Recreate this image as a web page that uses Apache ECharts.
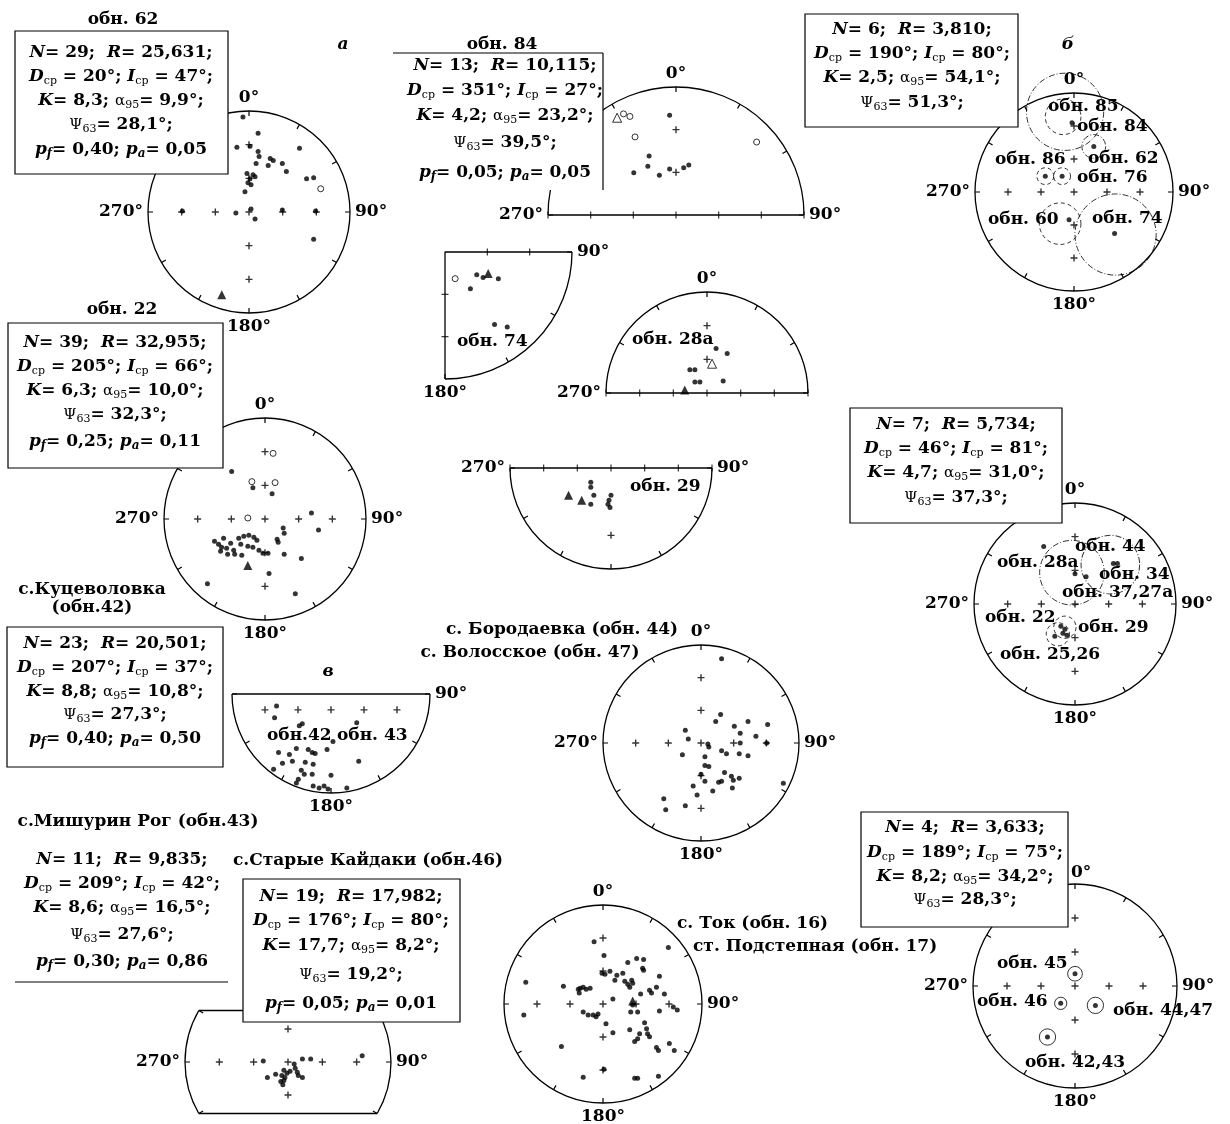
<!DOCTYPE html>
<html lang="ru">
<head>
<meta charset="UTF-8">
<title>Стереограммы</title>
<script src="https://cdn.jsdelivr.net/npm/echarts@6/dist/echarts.min.js"></script>
<style>html,body{margin:0;background:#fff}#main{width:1230px;height:1124px}</style>
</head>
<body>
<div id="main"></div>
<script>
// координаты точек: x, y в долях радиуса круга (восток +x, север +y)
var obn62Dots = [[-0.06,0.94],[0.09,0.78],[-0.12,0.64],[0.01,0.65],[0.09,0.60],[0.10,0.55],[0.07,0.48],[0.21,0.53],[0.24,0.51],[0.19,0.46],[0.33,0.48],[0.37,0.40],[0.50,0.63],[0.57,0.33],[0.64,0.34],[-0.02,0.38],[0.04,0.37],[0.01,0.33],[-0.01,0.29],[0.06,0.35],[0.02,0.27],[-0.04,0.20],[-0.66,0.01],[-0.13,-0.01],[0.02,0.03],[0.06,-0.07],[0.33,0.02],[0.66,0.01],[0.64,-0.27]];
var obn62Open = [[0.71,0.23]];
var obn62Mean = [[-0.27,-0.82]];

var obn22Dots = [[-0.33,0.47],[-0.12,0.31],[0.07,0.25],[0.46,0.06],[0.53,-0.11],[0.18,-0.09],[0.19,-0.14],[0.12,-0.20],[0.13,-0.23],
  [-0.50,-0.22],[-0.46,-0.25],[-0.43,-0.28],[-0.44,-0.32],[-0.38,-0.29],[-0.31,-0.31],[-0.34,-0.24],[-0.26,-0.19],[-0.21,-0.17],[-0.16,-0.16],[-0.11,-0.18],[-0.08,-0.21],[-0.24,-0.25],[-0.17,-0.27],[-0.12,-0.28],[-0.06,-0.31],[-0.02,-0.34],[0.03,-0.34],[-0.30,-0.35],[-0.23,-0.36],[-0.37,-0.35],[-0.41,-0.19],
  [0.19,-0.35],[0.36,-0.39],[0.04,-0.54],[-0.57,-0.64],[0.30,-0.74]];
var obn22Open = [[0.08,0.65],[-0.13,0.37],[0.10,0.36],[-0.17,0.01]];
var obn22Mean = [[-0.17,-0.46]];

var obn84Dots = [[-0.05,0.78],[-0.21,0.46],[-0.22,0.38],[-0.33,0.33],[-0.13,0.31],[-0.05,0.36],[0.06,0.37],[0.10,0.39]];
var obn84Open = [[-0.41,0.79],[-0.36,0.77],[-0.32,0.61],[0.63,0.57]];
var obn84OpenMean = [[-0.46,0.76]];

var obn74Dots = [[0.25,-0.18],[0.30,-0.20],[0.42,-0.21],[0.20,-0.29],[0.39,-0.57],[0.49,-0.59]];
var obn74Open = [[0.08,-0.21]];
var obn74Mean = [[0.34,-0.17]];

var obn28Dots = [[0.09,0.44],[0.20,0.39],[-0.17,0.23],[-0.12,0.23],[-0.12,0.11],[-0.07,0.11],[0.16,0.12]];
var obn28OpenMean = [[0.05,0.29]];
var obn28Mean = [[-0.22,0.03]];

var obn29Dots = [[-0.20,-0.14],[-0.20,-0.19],[-0.17,-0.27],[-0.20,-0.36],[0.00,-0.27],[-0.02,-0.32],[-0.03,-0.36],[-0.01,-0.39]];
var obn29Mean = [[-0.42,-0.27],[-0.29,-0.32]];

// сводные: x, y, радиус круга доверия
var sumBDashed = [[-0.11,0.76,0.18],[-0.29,0.16,0.085],[-0.12,0.16,0.085],[-0.14,-0.32,0.21]];
var sumBDotDash = [[-0.09,0.81,0.39],[0.20,0.46,0.12],[0.42,-0.43,0.41]];
var sumBMeans = [[-0.02,0.70],[0.20,0.46],[-0.29,0.16],[-0.12,0.16],[-0.05,-0.28],[0.41,-0.42]];

var sum2DotDash = [[-0.03,0.31,0.32],[0.35,0.39,0.29]];
var sum2Dashed = [[-0.10,-0.23,0.11],[-0.17,-0.30,0.115]];
var sum2Means = [[-0.31,0.57],[0.00,0.30],[0.11,0.27],[0.38,0.40],[0.42,0.40],[-0.14,-0.22],[-0.10,-0.25],[-0.12,-0.29],[-0.20,-0.32],[-0.08,-0.31]];

var sum3Rings = [[0.00,0.12,0.072],[-0.14,-0.17,0.06],[0.20,-0.19,0.08],[-0.27,-0.50,0.08]];

var obn42Dots = [[-0.55,-0.12],[-0.57,-0.24],[-0.32,-0.32],[-0.29,-0.30],[0.26,-0.29],[0.02,-0.48],[-0.53,-0.59],[-0.42,-0.61],[-0.35,-0.55],[-0.23,-0.56],[-0.19,-0.59],[-0.16,-0.60],[-0.04,-0.56],[-0.49,-0.70],[-0.39,-0.68],[-0.26,-0.69],[-0.18,-0.71],[0.28,-0.68],[-0.30,-0.77],[-0.27,-0.81],[-0.19,-0.81],[0.00,-0.82],[-0.58,-0.76],[-0.33,-0.86],[-0.35,-0.90],[-0.18,-0.93],[-0.12,-0.95],[-0.07,-0.93],[-0.03,-0.96],[0.16,-0.95]];

var obn44Dots = [[0.21,0.86],[0.20,0.29],[0.15,0.22],[0.34,0.17],[0.48,0.22],[0.68,0.19],[0.40,0.10],[0.56,0.07],[0.67,0.00],[-0.16,0.13],[-0.13,0.04],[0.07,-0.01],[0.08,-0.04],[0.40,0.00],[0.21,-0.08],[0.26,-0.11],[0.39,-0.11],[0.48,-0.13],[-0.19,-0.12],[0.04,-0.14],[0.04,-0.23],[0.08,-0.24],[0.00,-0.32],[0.24,-0.30],[0.31,-0.34],[0.33,-0.38],[0.39,-0.36],[0.04,-0.39],[0.18,-0.40],[0.21,-0.39],[-0.08,-0.44],[0.12,-0.49],[0.32,-0.46],[-0.04,-0.53],[-0.38,-0.57],[-0.36,-0.68],[-0.16,-0.64],[0.84,-0.41]];

var obn46Dots = [[-0.24,0.01],[0.14,0.03],[0.22,0.03],[0.72,0.06],[-0.20,-0.15],[-0.12,-0.12],[-0.04,-0.08],[-0.06,-0.13],[-0.04,-0.18],[-0.07,-0.19],[-0.03,-0.15],[-0.01,-0.11],[0.07,-0.06],[0.10,-0.13],[0.14,-0.15],[0.09,-0.10],[0.06,-0.02],[0.02,-0.09],[-0.05,-0.22]];

var obn16Dots = [[-0.09,0.63],[0.66,0.57],[0.01,0.49],[0.25,0.42],[0.34,0.46],[0.41,0.45],[0.40,0.36],[0.41,0.34],[-0.01,0.31],[0.02,0.30],[0.07,0.33],[0.14,0.29],[0.12,0.24],[0.20,0.31],[0.22,0.23],[0.25,0.20],[0.29,0.24],[0.27,0.17],[0.30,0.21],[0.57,0.28],[-0.78,0.22],[-0.40,0.18],[-0.25,0.15],[-0.23,0.16],[-0.20,0.17],[-0.17,0.15],[-0.13,0.16],[-0.24,0.11],[0.47,0.14],[0.49,0.11],[0.54,0.17],[0.38,0.10],[0.62,0.10],[0.10,0.05],[0.30,-0.01],[0.71,-0.03],[0.75,-0.06],[0.57,-0.07],[0.28,-0.08],[0.35,-0.08],[-0.20,-0.08],[-0.15,-0.11],[-0.10,-0.11],[-0.05,-0.10],[-0.07,-0.13],[-0.80,-0.11],[0.03,-0.20],[0.10,-0.29],[0.27,-0.26],[0.37,-0.30],[0.35,-0.35],[0.32,-0.38],[0.42,-0.19],[0.44,-0.25],[0.45,-0.30],[0.47,-0.33],[-0.42,-0.43],[0.54,-0.44],[0.56,-0.47],[0.67,-0.40],[0.72,-0.47],[0.01,-0.66],[-0.20,-0.74],[0.32,-0.75],[0.35,-0.75],[0.56,-0.73]];
var obn16Mean = [[0.30,0.03]];

// статистика
var stat62 = ['29','25,631','20','47','8,3','9,9','28,1','0,40','0,05'];
var stat84 = ['13','10,115','351','27','4,2','23,2','39,5','0,05','0,05'];
var stat22 = ['39','32,955','205','66','6,3','10,0','32,3','0,25','0,11'];
var stat42 = ['23','20,501','207','37','8,8','10,8','27,3','0,40','0,50'];
var stat43 = ['11','9,835','209','42','8,6','16,5','27,6','0,30','0,86'];
var stat46 = ['19','17,982','176','80','17,7','8,2','19,2','0,05','0,01'];
var statB = ['6','3,810','190','80','2,5','54,1','51,3'];
var stat2 = ['7','5,734','46','81','4,7','31,0','37,3'];
var stat3 = ['4','3,633','189','75','8,2','34,2','28,3'];

var FONT = '"DejaVu Serif", "Liberation Serif", serif';
var PLUS = 'path://M2,0H3V2H5V3H3V5H2V3H0V2H2Z';

var nets = [
  {cx:249, cy:212, r:101, shape:'full', labels:[0,90,180,270]},   // 0 обн. 62
  {cx:265, cy:519, r:101, shape:'full', labels:[0,90,180,270]},   // 1 обн. 22
  {cx:676, cy:215, r:128, shape:'upper', labels:[0,90,270]},      // 2 обн. 84
  {cx:445, cy:252, r:127, shape:'quarter', labels:[90,180]},      // 3 обн. 74
  {cx:707, cy:393, r:101, shape:'upper', labels:[0,270]},         // 4 обн. 28а
  {cx:611, cy:468, r:101, shape:'lower', labels:[90,270]},        // 5 обн. 29
  {cx:1074, cy:192, r:99, shape:'full', labels:[0,90,180,270]},   // 6 б
  {cx:1075, cy:604, r:101, shape:'full', labels:[0,90,180,270]},  // 7
  {cx:1075, cy:986, r:102, shape:'full', labels:[90,180,270]},    // 8 (0° подписан отдельно)
  {cx:331, cy:694, r:99, shape:'lower', labels:[90,180]},         // 9 в
  {cx:701, cy:743, r:98, shape:'full', labels:[0,90,180,270]},    // 10 Бородаевка
  {cx:288, cy:1062, r:103, shape:'barrel', labels:[90,270], yl:0.55}, // 11 Старые Кайдаки
  {cx:603, cy:1004, r:99, shape:'full', labels:[0,90,180]}        // 12 Ток
];

var crossFull = [[0,0],[-1/3,0],[-2/3,0],[1/3,0],[2/3,0],[0,1/3],[0,2/3],[0,-1/3],[0,-2/3]];
var baseTicks = [[-1,0],[-2/3,0],[-1/3,0],[0,0],[1/3,0],[2/3,0],[1,0]];

var polar = [], angleAxis = [], radiusAxis = [], grid = [], xAxis = [], yAxis = [], series = [];

function addPolar(n, min, max, sa, ea) {
  var i = polar.length;
  polar.push({center: [n.cx, n.cy], radius: n.r});
  var ax = {
    polarIndex: i, type: 'value', min: min, max: max, interval: 30,
    startAngle: sa, clockwise: true,
    axisLine: {lineStyle: {color: '#000', width: 1.3}},
    axisTick: {inside: true, length: 5, lineStyle: {color: '#000', width: 1.2}},
    axisLabel: {
      color: '#000', fontFamily: FONT, fontWeight: 'bold', fontSize: 17, margin: 5,
      formatter: function (v) {
        if (n.shape === 'full' && v >= 360) return '';
        var d = v % 360;
        return n.labels.indexOf(d) >= 0 ? d + '°' : '';
      }
    },
    splitLine: {show: false}, splitArea: {show: false}
  };
  if (ea !== undefined) ax.endAngle = ea;
  angleAxis.push(ax);
  radiusAxis.push({polarIndex: i, type: 'value', min: 0, max: 1, show: false});
}

nets.forEach(function (n, k) {
  if (n.shape === 'full') addPolar(n, 0, 360, 90);
  else if (n.shape === 'upper') addPolar(n, 270, 450, 180, 0);
  else if (n.shape === 'lower') addPolar(n, 90, 270, 0, -180);
  else if (n.shape === 'quarter') addPolar(n, 90, 180, 0, -90);
  else if (n.shape === 'barrel') { addPolar(n, 60, 120, 30, -30); addPolar(n, 240, 300, -150, -210); }
  var yl = n.yl || 1;
  grid.push({left: n.cx - n.r, top: n.cy - n.r * yl, width: 2 * n.r, height: 2 * n.r * yl});
  xAxis.push({gridIndex: k, type: 'value', min: -1, max: 1, show: false});
  yAxis.push({gridIndex: k, type: 'value', min: -yl, max: yl, show: false});
});

var kinds = {
  dot: {symbol: 'circle', symbolSize: 5, itemStyle: {color: '#000'}},
  open: {symbol: 'circle', symbolSize: 6, itemStyle: {color: '#fff', borderColor: '#000', borderWidth: 1}},
  tri: {symbol: 'triangle', symbolSize: 9, itemStyle: {color: '#000'}},
  otri: {symbol: 'triangle', symbolSize: 9, itemStyle: {color: '#fff', borderColor: '#000', borderWidth: 1}},
  cross: {symbol: PLUS, symbolSize: 7, itemStyle: {color: '#000'}},
  vtick: {symbol: 'rect', symbolSize: [1.2, 7], itemStyle: {color: '#000'}},
  htick: {symbol: 'rect', symbolSize: [7, 1.2], itemStyle: {color: '#000'}}
};

function pts(k, data, kind) {
  var s = {type: 'scatter', xAxisIndex: k, yAxisIndex: k, data: data, silent: true, animation: false, clip: false, z: kind === 'open' || kind === 'otri' ? 4 : 3};
  var st = kinds[kind];
  s.symbol = st.symbol; s.symbolSize = st.symbolSize; s.itemStyle = st.itemStyle;
  series.push(s);
}
function rings(k, data, dash) {
  var R = nets[k].r;
  series.push({
    type: 'scatter', xAxisIndex: k, yAxisIndex: k, data: data, silent: true, animation: false, clip: false,
    symbol: 'circle', symbolSize: function (v) { return v[2] * 2 * R; },
    itemStyle: {color: 'rgba(0,0,0,0)', borderColor: '#000', borderWidth: 1, borderType: dash}, z: 2
  });
}
function frame(k, data) {
  series.push({type: 'line', xAxisIndex: k, yAxisIndex: k, data: data, symbol: 'none', silent: true, animation: false,
    lineStyle: {color: '#000', width: 1.3}, z: 2});
}

var DASH = [4, 3], DOTDASH = [6, 2, 1, 2];

// обн. 62
pts(0, crossFull, 'cross'); pts(0, obn62Dots, 'dot'); pts(0, obn62Open, 'open'); pts(0, obn62Mean, 'tri');
// обн. 22
pts(1, crossFull, 'cross'); pts(1, obn22Dots, 'dot'); pts(1, obn22Open, 'open'); pts(1, obn22Mean, 'tri');
// обн. 84
frame(2, [[-1,0],[1,0]]); pts(2, baseTicks, 'vtick'); pts(2, [[0,1/3],[0,2/3]], 'cross');
pts(2, obn84Dots, 'dot'); pts(2, obn84Open, 'open'); pts(2, obn84OpenMean, 'otri');
// обн. 74
frame(3, [[1,0],[0,0],[0,-1]]); pts(3, [[1/3,0],[2/3,0]], 'vtick'); pts(3, [[0,-1/3],[0,-2/3]], 'htick');
pts(3, obn74Dots, 'dot'); pts(3, obn74Open, 'open'); pts(3, obn74Mean, 'tri');
// обн. 28а
frame(4, [[-1,0],[1,0]]); pts(4, baseTicks, 'vtick'); pts(4, [[0,1/3],[0,2/3]], 'cross');
pts(4, obn28Dots, 'dot'); pts(4, obn28OpenMean, 'otri'); pts(4, obn28Mean, 'tri');
// обн. 29
frame(5, [[-1,0],[1,0]]); pts(5, baseTicks, 'vtick'); pts(5, [[0,-2/3]], 'cross');
pts(5, obn29Dots, 'dot'); pts(5, obn29Mean, 'tri');
// б
pts(6, crossFull, 'cross'); rings(6, sumBDashed, DASH); rings(6, sumBDotDash, DOTDASH); pts(6, sumBMeans, 'dot');
// сводная 2
pts(7, crossFull, 'cross'); rings(7, sum2DotDash, DOTDASH); rings(7, sum2Dashed, DASH); pts(7, sum2Means, 'dot');
// сводная 3
pts(8, crossFull, 'cross'); rings(8, sum3Rings, 'solid'); pts(8, sum3Rings, 'dot');
// в
frame(9, [[-1,0],[1,0]]); pts(9, [[-2/3,-0.16],[-1/3,-0.16],[0,-0.16],[1/3,-0.16],[2/3,-0.16]], 'cross'); pts(9, obn42Dots, 'dot');
// Бородаевка
pts(10, crossFull, 'cross'); pts(10, obn44Dots, 'dot');
// Старые Кайдаки
frame(11, [[-0.866,0.5],[0.866,0.5]]); frame(11, [[-0.866,-0.5],[0.866,-0.5]]);
pts(11, [[-2/3,0],[-1/3,0],[0,0],[1/3,0],[2/3,0],[0,0.32],[0,-0.32]], 'cross'); pts(11, obn46Dots, 'dot');
// Ток
pts(12, crossFull, 'cross'); pts(12, obn16Dots, 'dot'); pts(12, obn16Mean, 'tri');

// ---- тексты ----
var rich = {
  n: {fontFamily: FONT, fill: '#000', fontSize: 17, lineHeight: 20, fontWeight: 'bold'},
  i: {fontFamily: FONT, fill: '#000', fontSize: 17, lineHeight: 20, fontWeight: 'bold', fontStyle: 'italic'},
  g: {fontFamily: FONT, fill: '#000', fontSize: 15, lineHeight: 20, fontWeight: 'normal'},
  s: {fontFamily: FONT, fill: '#000', fontSize: 11, lineHeight: 12, fontWeight: 'normal', verticalAlign: 'bottom'},
  si: {fontFamily: FONT, fill: '#000', fontSize: 12, lineHeight: 12, fontWeight: 'bold', fontStyle: 'italic', verticalAlign: 'bottom'}
};
function statLines(s) {
  var l = [
    '{i|N}{n|= ' + s[0] + ';  }{i|R}{n|= ' + s[1] + ';}',
    '{i|D}{s|ср}{n| = ' + s[2] + '°; }{i|I}{s|ср}{n| = ' + s[3] + '°;}',
    '{i|K}{n|= ' + s[4] + '; }{g|α}{s|95}{n|= ' + s[5] + '°;}',
    '{g|Ψ}{s|63}{n|= ' + s[6] + '°;}'
  ];
  if (s.length > 7) l.push('{i|p}{si|f}{n|= ' + s[7] + '; }{i|p}{si|a}{n|= ' + s[8] + '}');
  return l;
}
var graphic = [];
function box(x, y, w, h) {
  graphic.push({type: 'rect', z: 100, shape: {x: x, y: y, width: w, height: h}, style: {fill: '#fff', stroke: '#000', lineWidth: 1.2}});
}
function blank(x, y, w, h) {
  graphic.push({type: 'rect', z: 100, shape: {x: x, y: y, width: w, height: h}, style: {fill: '#fff'}});
}
function seg(x1, y1, x2, y2) {
  graphic.push({type: 'line', z: 101, shape: {x1: x1, y1: y1, x2: x2, y2: y2}, style: {stroke: '#000', lineWidth: 1.2}});
}
function statText(cx, ys, s) {
  statLines(s).forEach(function (t, j) {
    graphic.push({type: 'text', z: 110, x: cx, y: ys[j], style: {text: t, rich: rich, align: 'center', verticalAlign: 'middle'}});
  });
}
function label(x, y, t, align, italic) {
  graphic.push({type: 'text', z: 110, x: x, y: y, style: {
    text: t, fill: '#000', align: align || 'left', verticalAlign: 'middle',
    font: (italic ? 'italic ' : '') + 'bold 17px ' + FONT}});
}

box(15, 31, 213, 143); statText(121, [53, 77, 101, 125, 150], stat62);
blank(393, 53, 210, 137); seg(393, 53, 603, 53); seg(603, 53, 603, 190); statText(505, [66, 91, 116, 143, 173], stat84);
box(805, 14, 213, 113); statText(912, [30, 54, 78, 103], statB);
box(8, 323, 215, 145); statText(115, [343, 367, 391, 415, 442], stat22);
box(850, 408, 212, 115); statText(956, [425, 449, 473, 498], stat2);
box(7, 627, 216, 140); statText(115, [644, 668, 692, 715, 739], stat42);
seg(15, 982, 228, 982); statText(122, [860, 884, 908, 935, 962], stat43);
box(243, 879, 217, 143); statText(351, [897, 921, 946, 975, 1004], stat46);
box(861, 812, 207, 115); statText(965, [828, 853, 877, 900], stat3);

label(123, 20, 'обн. 62', 'center');
label(502, 45, 'обн. 84', 'center');
label(122, 310, 'обн. 22', 'center');
label(92, 590, 'с.Куцеволовка', 'center');
label(92, 608, '(обн.42)', 'center');
label(562, 630, 'с. Бородаевка (обн. 44)', 'center');
label(530, 653, 'с. Волосское (обн. 47)', 'center');
label(138, 822, 'с.Мишурин Рог (обн.43)', 'center');
label(368, 861, 'с.Старые Кайдаки (обн.46)', 'center');
label(677, 924, 'с. Ток (обн. 16)', 'left');
label(693, 947, 'ст. Подстепная (обн. 17)', 'left');
label(343, 45, 'а', 'center', true);
label(1068, 45, 'б', 'center', true);
label(328, 672, 'в', 'center', true);
label(1071, 873, '0°', 'left');

label(1048, 107, 'обн. 85'); label(1077, 127, 'обн. 84'); label(995, 160, 'обн. 86');
label(1088, 159, 'обн. 62'); label(1077, 178, 'обн. 76'); label(988, 220, 'обн. 60');
label(1092, 219, 'обн. 74');
label(1075, 547, 'обн. 44'); label(997, 563, 'обн. 28а'); label(1099, 575, 'обн. 34');
label(1062, 593, 'обн. 37,27а'); label(985, 618, 'обн. 22'); label(1078, 628, 'обн. 29');
label(1000, 655, 'обн. 25,26');
label(997, 964, 'обн. 45'); label(977, 1002, 'обн. 46'); label(1113, 1011, 'обн. 44,47');
label(1025, 1063, 'обн. 42,43');
label(457, 342, 'обн. 74'); label(632, 340, 'обн. 28а'); label(630, 487, 'обн. 29');
label(267, 736, 'обн.42'); label(337, 736, 'обн. 43');

var chart = echarts.init(document.getElementById('main'));
chart.setOption({
  backgroundColor: '#fff',
  animation: false,
  polar: polar, angleAxis: angleAxis, radiusAxis: radiusAxis,
  grid: grid, xAxis: xAxis, yAxis: yAxis,
  series: series,
  graphic: graphic
});
</script>
</body>
</html>
